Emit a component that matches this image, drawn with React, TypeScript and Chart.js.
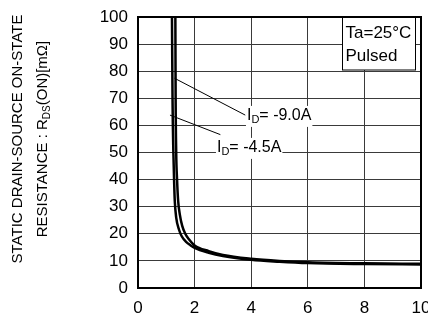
import React, { useEffect, useRef } from "react";
import { Chart, registerables } from "chart.js";

Chart.register(...registerables);

// Gate-source voltage (x) and on-state resistance in mΩ (y) for each drain current
const vgs45 = [1.2, 1.22, 1.25, 1.28, 1.3, 1.35, 1.45, 1.55, 1.7, 1.85, 2.0, 2.5, 3.0, 4.0, 5.0, 6.0, 8.0, 10.0];
const rds45 = [100, 70, 50, 38, 32, 26, 21.5, 19, 17, 15.8, 14.8, 13.0, 11.8, 10.4, 9.7, 9.2, 8.85, 8.7];

const vgs90 = [1.32, 1.33, 1.35, 1.38, 1.42, 1.48, 1.56, 1.67, 1.8, 2.0, 2.5, 3.0, 4.0, 5.0, 6.0, 8.0, 10.0];
const rds90 = [100, 70, 50, 40, 32, 27, 23, 20, 18, 15.7, 13.6, 12.2, 10.8, 10.0, 9.5, 9.1, 8.95];

const xTicks = [0, 2, 4, 6, 8, 10];
const yTicks = [0, 10, 20, 30, 40, 50, 60, 70, 80, 90, 100];

// Curve annotations: leader line start/end (data units) and label anchor
const curveLabels = [
  { current: "= -9.0A", from: [1.29, 77.4], to: [3.79, 63.8], at: [3.85, 63.5] },
  { current: "= -4.5A", from: [1.13, 63.8], to: [2.91, 56.6], at: [2.79, 51.7] },
];

const conditionLines = ["Ta=25°C", "Pulsed"];

const FONT = "Liberation Sans, Arial, sans-serif";

type Part = { text: string; sub?: boolean };

function partsWidth(ctx: CanvasRenderingContext2D, parts: Part[], size: number, subSize: number) {
  let w = 0;
  for (const p of parts) {
    ctx.font = `${p.sub ? subSize : size}px ${FONT}`;
    w += ctx.measureText(p.text).width;
  }
  return w;
}

function drawParts(ctx: CanvasRenderingContext2D, parts: Part[], x: number, y: number, size: number, subSize: number) {
  let cx = x;
  ctx.textBaseline = "middle";
  ctx.textAlign = "left";
  for (const p of parts) {
    ctx.font = `${p.sub ? subSize : size}px ${FONT}`;
    ctx.fillText(p.text, cx, p.sub ? y + size * 0.25 : y);
    cx += ctx.measureText(p.text).width;
  }
}

const decorations = {
  id: "decorations",
  afterDatasetsDraw(chart: any) {
    const { ctx, chartArea: a, scales } = chart;
    const xs = scales.x;
    const ys = scales.y;
    ctx.save();
    ctx.fillStyle = "#000";
    ctx.strokeStyle = "#000";

    // leader lines and current labels
    for (const l of curveLabels) {
      ctx.lineWidth = 1;
      ctx.beginPath();
      ctx.moveTo(xs.getPixelForValue(l.from[0]), ys.getPixelForValue(l.from[1]));
      ctx.lineTo(xs.getPixelForValue(l.to[0]), ys.getPixelForValue(l.to[1]));
      ctx.stroke();
      const parts: Part[] = [{ text: "I" }, { text: "D", sub: true }, { text: l.current }];
      const lx = xs.getPixelForValue(l.at[0]);
      const ly = ys.getPixelForValue(l.at[1]);
      const w = partsWidth(ctx, parts, 16, 11);
      ctx.fillStyle = "#fff";
      ctx.fillRect(lx - 1, ly - 10, w + 2, 21);
      ctx.fillStyle = "#000";
      drawParts(ctx, parts, lx, ly, 16, 11);
    }

    // measurement-condition box
    const bx = 342.5;
    const by = a.top;
    const bw = 73;
    const bh = 53;
    ctx.fillStyle = "#fff";
    ctx.fillRect(bx, by, bw, bh);
    ctx.lineWidth = 1;
    ctx.strokeRect(bx, by, bw, bh);
    ctx.fillStyle = "#000";
    ctx.font = `17px ${FONT}`;
    ctx.textAlign = "left";
    ctx.textBaseline = "middle";
    conditionLines.forEach((t, i) => ctx.fillText(t, bx + 3, by + 16 + i * 23));

    // plot frame
    ctx.lineWidth = 2;
    ctx.strokeRect(a.left, a.top, a.right - a.left, a.bottom - a.top);

    // y-axis title, two rotated lines
    const line1: Part[] = [{ text: "STATIC DRAIN-SOURCE ON-STATE" }];
    const line2: Part[] = [
      { text: "RESISTANCE : R" },
      { text: "DS", sub: true },
      { text: "(ON)[mΩ]" },
    ];
    const cy = 139;
    [
      [line1, 18],
      [line2, 43],
    ].forEach(([parts, x]: any) => {
      const w = partsWidth(ctx, parts, 15, 10);
      ctx.save();
      ctx.translate(x, cy);
      ctx.rotate(-Math.PI / 2);
      drawParts(ctx, parts, -w / 2, 0, 15, 10);
      ctx.restore();
    });
    ctx.restore();
  },
};

export default function App() {
  const ref = useRef<HTMLCanvasElement>(null);

  useEffect(() => {
    document.body.style.margin = "0";
    const canvas = ref.current!;
    const toPoints = (xs: number[], ys: number[]) => xs.map((x, i) => ({ x, y: ys[i] }));
    const chart = new Chart(canvas, {
      type: "line",
      data: {
        datasets: [
          {
            label: "ID=-9.0A",
            data: toPoints(vgs90, rds90),
            borderColor: "#000",
            borderWidth: 2.5,
            pointRadius: 0,
            cubicInterpolationMode: "monotone",
          },
          {
            label: "ID=-4.5A",
            data: toPoints(vgs45, rds45),
            borderColor: "#000",
            borderWidth: 2.5,
            pointRadius: 0,
            cubicInterpolationMode: "monotone",
          },
        ],
      },
      options: {
        animation: false,
        responsive: false,
        events: [],
        layout: { padding: { left: 0, top: 17, right: 7, bottom: 0 } },
        plugins: { legend: { display: false }, tooltip: { enabled: false } },
        scales: {
          x: {
            type: "linear",
            min: 0,
            max: 10,
            afterBuildTicks: (s: any) => {
              s.ticks = xTicks.map((v) => ({ value: v }));
            },
            afterFit: (s: any) => {
              s.height = 37;
              s.paddingLeft = 0;
              s.paddingRight = 0;
            },
            grid: { color: "#3a3a3a", lineWidth: 1, drawTicks: false },
            border: { display: false },
            ticks: { color: "#000", font: { family: FONT, size: 17 }, padding: 10, maxRotation: 0 },
          },
          y: {
            type: "linear",
            min: 0,
            max: 100,
            afterBuildTicks: (s: any) => {
              s.ticks = yTicks.map((v) => ({ value: v }));
            },
            afterFit: (s: any) => {
              s.width = 138;
              s.paddingTop = 0;
              s.paddingBottom = 0;
            },
            grid: { color: "#3a3a3a", lineWidth: 1, drawTicks: false },
            border: { display: false },
            ticks: { color: "#000", font: { family: FONT, size: 17 }, padding: 10 },
          },
        },
      },
      plugins: [decorations],
    } as any);
    return () => chart.destroy();
  }, []);

  return <canvas ref={ref} width={428} height={325} style={{ display: "block" }} />;
}
